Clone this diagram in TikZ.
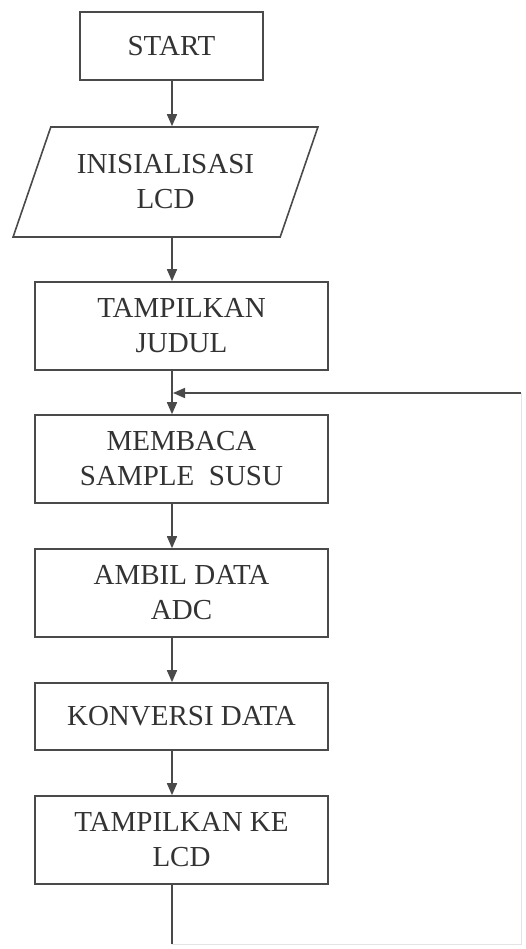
\documentclass[tikz,border=0pt]{standalone}
\usepackage{fontspec}
\setmainfont{Liberation Serif}
\usepackage{tikz}
\usepackage{xcolor}
\usetikzlibrary{arrows.meta,shapes.geometric}
\definecolor{inkline}{HTML}{4A4A4A}
\definecolor{inktext}{HTML}{333333}
\definecolor{faintline}{HTML}{E4E4E4}

\begin{document}
\begin{tikzpicture}
[x=1pt,y=-1pt,
      font=\fontsize{29}{35}\selectfont,text=inktext,
      proc/.style={draw=inkline,line width=1.6pt,rectangle,align=center,
      minimum width=293pt,minimum height=88pt,inner sep=2pt},
      io/.style={draw=inkline,line width=1.6pt,trapezium,trapezium stretches=true,
      trapezium left angle=63,trapezium right angle=117,align=center,
      minimum width=305pt,minimum height=110pt,inner sep=2pt},
      flow/.style={draw=inkline,line width=1.6pt,-{Triangle[length=12pt,width=10pt]}},
      wire/.style={draw=inkline,line width=1.6pt},
      faint/.style={draw=faintline,line width=1pt}]
 \useasboundingbox (0,0) rectangle (525,949);
 \node[proc,minimum width=183pt,minimum height=68pt] (start) at (171.5,46) {START};
 \node[io] (lcdinit) at (165.5,182) {INISIALISASI\\LCD};
 \node[proc] (judul) at (181.5,326) {TAMPILKAN\\JUDUL};
 \node[proc] (baca) at (181.5,459) {MEMBACA\\SAMPLE\enspace SUSU};
 \node[proc] (adc) at (181.5,593) {AMBIL DATA\\ADC};
 \node[proc,minimum height=67pt] (konversi) at (181.5,716.5) {KONVERSI DATA};
 \node[proc] (tampil) at (181.5,840) {TAMPILKAN KE\\LCD};
 \coordinate (spine) at (172,0);
 \coordinate (join) at (173,393);
 \coordinate (loopbl) at (172,944);
 \coordinate (loopbr) at (521,944);
 \coordinate (looptr) at (521,393);
 \path[flow] (start.south -| spine) -- (lcdinit.north -| spine);
 \path[flow] (lcdinit.south -| spine) -- (judul.north -| spine);
 \path[flow] (judul.south -| spine) -- (baca.north -| spine);
 \path[flow] (baca.south -| spine) -- (adc.north -| spine);
 \path[flow] (adc.south -| spine) -- (konversi.north -| spine);
 \path[flow] (konversi.south -| spine) -- (tampil.north -| spine);
 \path[wire] (tampil.south -| spine) -- (loopbl);
 \path[faint] (loopbl) -- (loopbr) -- (looptr);
 \path[flow] (looptr) -- (join);
\end{tikzpicture}
\end{document}
